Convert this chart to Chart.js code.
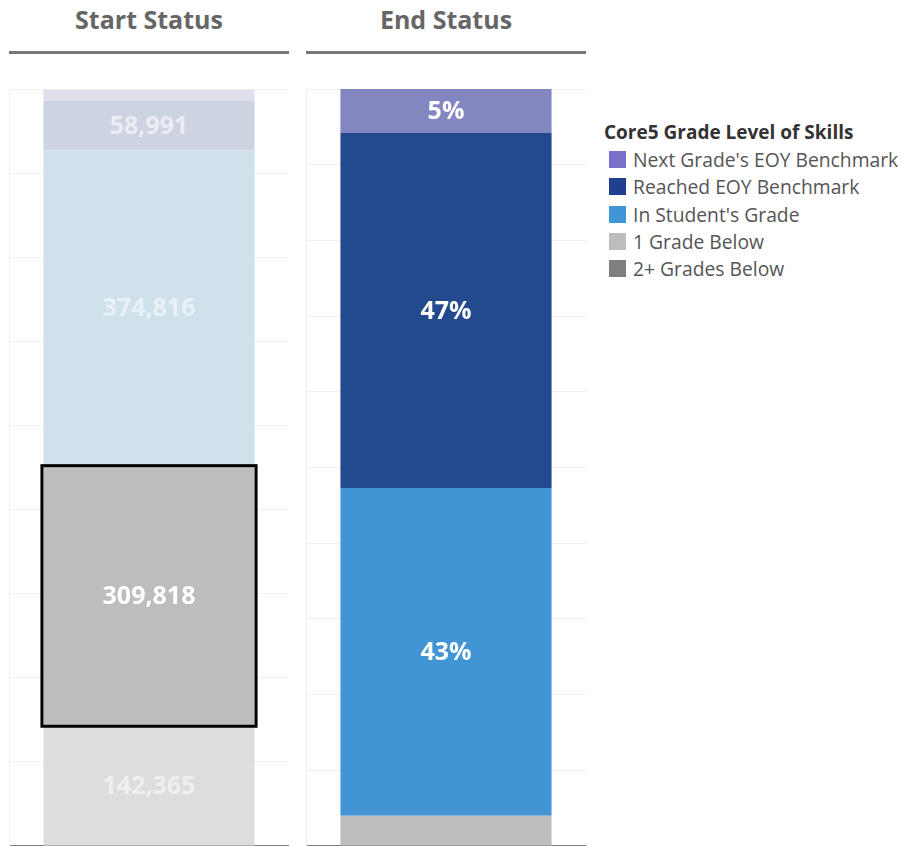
<!DOCTYPE html>
<html>
<head>
<meta charset="utf-8">
<script src="https://cdn.jsdelivr.net/npm/chart.js@4.4.0/dist/chart.umd.min.js"></script>
<style>
  body { margin: 0; background: #fff; font-family: "Open Sans", sans-serif; overflow: hidden; }
  .panel { position: absolute; top: 0; width: 280px; }
  .panel h2 { margin: 0; height: 51px; line-height: 38px; text-align: center; font-size: 25px; font-weight: 700; color: #666; border-bottom: 3px solid #777; }
  .panel .box { position: relative; width: 280px; height: 800px; }
  #legend { position: absolute; left: 604px; top: 119px; color: #555; font-size: 19.3px; }
  #legend .ttl { font-weight: 700; color: #333; font-size: 19px; margin-bottom: 1px; }
  #legend .item { height: 27.3px; line-height: 27px; display: flex; align-items: center; }
  #legend .sw { width: 17px; height: 17px; margin: 0 7px 0 5px; }
</style>
</head>
<body>
<div class="panel" style="left:9px"><h2>Start Status</h2><div class="box"><canvas id="startChart"></canvas></div></div>
<div class="panel" style="left:306px"><h2>End Status</h2><div class="box"><canvas id="endChart"></canvas></div></div>
<div id="legend"></div>

<script>
// 범주 (아래 -> 위)
const levels = ["2+ Grades Below", "1 Grade Below", "In Student's Grade", "Reached EOY Benchmark", "Next Grade's EOY Benchmark"];
const legendColors = ['#7f7f7f', '#bdbdbd', '#3f95d5', '#1f3f8f', '#7b70c8'];
const endColors = ['#7f7f7f', '#bdbdbd', '#4195d4', '#234a8c', '#8387c1'];
const startColors = ['#dddddd', '#bdbdbd', '#d1e1eb', '#cdd3e0', '#dedfeb'];

// 값
const startValues = [142365, 309818, 374816, 58991, 13000];
const endValues = [0, 4.0, 43.3, 46.9, 5.8];
const startLabels = ['142,365', '309,818', '374,816', '58,991', ''];
const endLabels = ['', '', '43%', '47%', '5%'];
const startLabelColors = ['rgba(255,255,255,0.55)', '#ffffff', 'rgba(255,255,255,0.55)', 'rgba(255,255,255,0.6)', ''];
const highlightIndex = 1;

// legend
const lg = document.getElementById('legend');
lg.innerHTML = '<div class="ttl">Core5 Grade Level of Skills</div>';
for (let i = levels.length - 1; i >= 0; i--) {
    lg.innerHTML += '<div class="item"><span class="sw" style="background:' + legendColors[i] + '"></span>' + levels[i] + '</div>';
}

// 막대 라벨 그리기
const segLabels = {
    id: 'segLabels',
    afterDatasetsDraw(chart, args, opts) {
        const ctx = chart.ctx;
        ctx.save();
        ctx.font = '700 25px "Open Sans"';
        ctx.textAlign = 'center';
        ctx.textBaseline = 'middle';
        chart.data.datasets.forEach(function(ds, i) {
            const el = chart.getDatasetMeta(i).data[0];
            if (!opts.texts[i]) return;
            ctx.fillStyle = opts.colors[i];
            ctx.fillText(opts.texts[i], el.x, (el.y + el.base) / 2 + 1);
        });
        // 강조 테두리
        if (opts.highlight != null) {
            const el = chart.getDatasetMeta(opts.highlight).data[0];
            ctx.lineWidth = 3;
            ctx.strokeStyle = '#000';
            ctx.strokeRect(el.x - el.width / 2 - 1.5, el.y, el.width + 3, el.base - el.y);
        }
        ctx.restore();
    }
};

function makeChart(id, values, colors, max, step, texts, labelColors, highlight) {
    return new Chart(document.getElementById(id), {
        type: 'bar',
        data: {
            labels: [''],
            datasets: levels.map(function(name, i) {
                return {
                    label: name,
                    data: [values[i]],
                    backgroundColor: colors[i],
                    borderWidth: 0,
                    barPercentage: 0.754,
                    categoryPercentage: 1
                };
            })
        },
        options: {
            responsive: true,
            maintainAspectRatio: false,
            animation: false,
            layout: { padding: { top: 35, left: 0, right: 0, bottom: 0 } },
            plugins: {
                legend: { display: false },
                tooltip: { enabled: false },
                segLabels: { texts: texts, colors: labelColors, highlight: highlight }
            },
            scales: {
                x: {
                    stacked: true,
                    grid: { display: false },
                    ticks: { display: false },
                    border: { color: '#808080', width: 2 }
                },
                y: {
                    stacked: true,
                    min: 0,
                    max: max,
                    ticks: { display: false, stepSize: step },
                    grid: { color: '#f0f0f0', drawTicks: false },
                    border: { color: '#eeeeee', width: 1 }
                }
            }
        },
        plugins: [segLabels]
    });
}

makeChart('startChart', startValues, startColors, 900000, 100000, startLabels, startLabelColors, highlightIndex);
makeChart('endChart', endValues, endColors, 100, 10, endLabels, ['', '', '#fff', '#fff', '#fff'], null);
</script>
</body>
</html>
